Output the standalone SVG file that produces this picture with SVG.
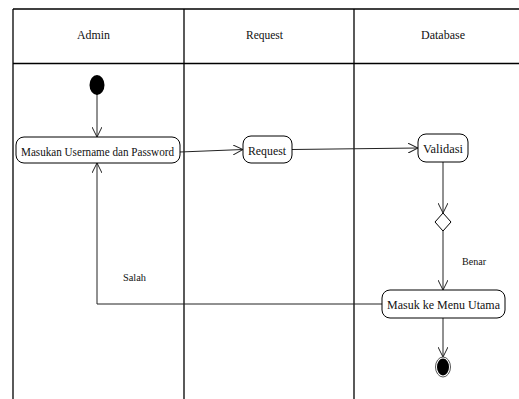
<svg xmlns="http://www.w3.org/2000/svg" width="519" height="399" viewBox="0 0 519 399">
  <style>
    .lane { stroke: #000; stroke-width: 1.3; fill: none; }
    .node rect { fill: #fff; stroke: #000; stroke-width: 1; }
    text { font-family: "Liberation Serif", "Times New Roman", serif; font-size: 13.5px; fill: #111; }
    .lbl { font-size: 11px; }
    .conn { stroke: #222; stroke-width: 1; fill: none; }
  </style>
  <defs>
    <marker id="open" viewBox="0 0 10 10" refX="10" refY="5" markerWidth="10" markerHeight="10" markerUnits="userSpaceOnUse" orient="auto">
      <path d="M0,0 L10,5 L0,10" fill="none" stroke="#222" stroke-width="1"/>
    </marker>
  </defs>
  <rect width="519" height="399" fill="#fff"/>

  <!-- swimlanes -->
  <g id="lanes">
    <line class="lane" x1="13" y1="9" x2="519" y2="9"/>
    <line class="lane" x1="13" y1="63.5" x2="519" y2="63.5"/>
    <line class="lane" x1="13" y1="9" x2="13" y2="399"/>
    <line class="lane" x1="184" y1="9" x2="184" y2="399"/>
    <line class="lane" x1="354" y1="9" x2="354" y2="399"/>
    <text x="77" y="39" textLength="33" lengthAdjust="spacingAndGlyphs">Admin</text>
    <text x="246" y="39" textLength="37" lengthAdjust="spacingAndGlyphs">Request</text>
    <text x="421" y="39" textLength="44" lengthAdjust="spacingAndGlyphs">Database</text>
  </g>

  <!-- connectors -->
  <g id="connectors">
    <line class="conn" x1="97" y1="94" x2="97" y2="137" marker-end="url(#open)"/>
    <line class="conn" x1="180" y1="152" x2="243" y2="149.5" marker-end="url(#open)"/>
    <line class="conn" x1="292" y1="149.5" x2="418" y2="148" marker-end="url(#open)"/>
    <line class="conn" x1="443" y1="162" x2="443" y2="213" marker-end="url(#open)"/>
    <line class="conn" x1="443" y1="231" x2="443" y2="290" marker-end="url(#open)"/>
    <polyline class="conn" points="382,304 97,304 97,163" marker-end="url(#open)"/>
    <line class="conn" x1="443" y1="318" x2="443" y2="357" marker-end="url(#open)"/>
    <text class="lbl" x="462" y="265" textLength="24" lengthAdjust="spacingAndGlyphs">Benar</text>
    <text class="lbl" x="123" y="281" textLength="23" lengthAdjust="spacingAndGlyphs">Salah</text>
  </g>

  <g id="start">
    <ellipse cx="97" cy="85" rx="7.5" ry="10" fill="#000"/>
  </g>

  <g id="masukan" class="node">
    <rect x="16" y="137" width="164" height="26" rx="8"/>
    <text x="21" y="155.5" textLength="153" lengthAdjust="spacingAndGlyphs">Masukan Username dan Password</text>
  </g>

  <g id="request" class="node">
    <rect x="243" y="136" width="49" height="27" rx="8"/>
    <text x="248" y="155" textLength="38" lengthAdjust="spacingAndGlyphs">Request</text>
  </g>

  <g id="validasi" class="node">
    <rect x="418" y="134" width="50" height="28" rx="8"/>
    <text x="423" y="152.5" textLength="40" lengthAdjust="spacingAndGlyphs">Validasi</text>
  </g>

  <g id="decision">
    <polygon points="443,213 451,222 443,231 435,222" fill="#fff" stroke="#000" stroke-width="1"/>
  </g>

  <g id="masuk-menu" class="node">
    <rect x="382" y="290" width="123" height="28" rx="8"/>
    <text x="387" y="308.5" textLength="113" lengthAdjust="spacingAndGlyphs">Masuk ke Menu Utama</text>
  </g>

  <g id="end">
    <ellipse cx="443" cy="367" rx="7.5" ry="10" fill="#fff" stroke="#555" stroke-width="1"/>
    <ellipse cx="443" cy="367" rx="6" ry="8.5" fill="#000"/>
  </g>
</svg>
